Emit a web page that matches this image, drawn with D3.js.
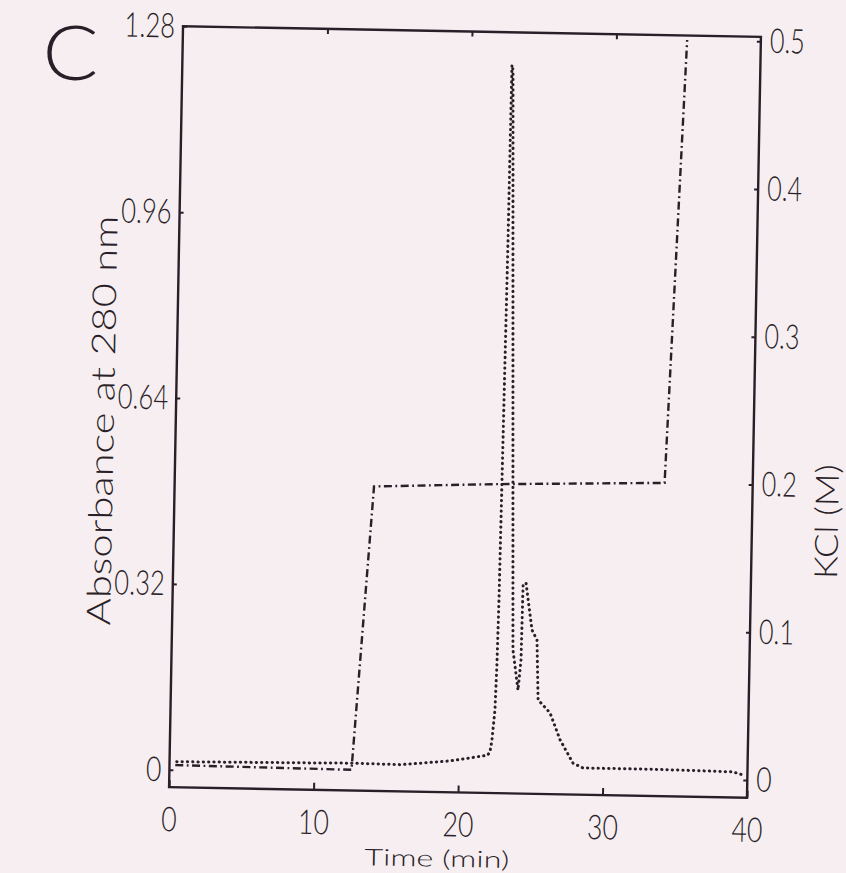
<!DOCTYPE html>
<html><head><meta charset="utf-8">
<script src="https://cdn.jsdelivr.net/npm/d3@7"></script>
<style>
html,body{margin:0;padding:0;background:#f6eef0;}
svg{display:block}
text{font-family:Lato,"Open Sans","DejaVu Sans",sans-serif;font-weight:300;fill:#2a1e28;}
</style>
</head><body>
<svg id="chart" width="846" height="873"></svg>
<script>
// ---- data ----
const timeTicks = [0, 10, 20, 30, 40];
const absTicks = [0, 0.32, 0.64, 0.96, 1.28];
const kclTicks = [0, 0.1, 0.2, 0.3, 0.4, 0.5];

// absorbance at 280 nm (dotted trace)
const absTime  = [0.5, 9.0, 12.6, 16.0, 19.4, 22.0, 22.16, 22.28, 22.45, 22.53, 22.59, 22.62, 22.76, 22.81,
                  22.89, 23.1, 23.48, 23.62, 24.02, 24.19, 24.24, 24.44, 24.91, 25.27, 25.42, 26.26, 26.99,
                  27.92, 28.62, 33.25, 36.7, 39.0, 39.7];
const absValue = [0.014, 0.016, 0.017, 0.016, 0.024, 0.035, 0.041, 0.061, 0.113, 0.191, 0.303, 0.406, 0.923, 1.224,
                  1.215, 0.923, 0.406, 0.217, 0.148, 0.200, 0.329, 0.333, 0.252, 0.235, 0.132, 0.110, 0.064,
                  0.024, 0.016, 0.016, 0.015, 0.014, 0.009];

// KCl gradient (dash-dot trace)
const kclTime  = [0.4, 12.6, 13.8, 22.0, 33.9, 34.9];
const kclValue = [0.003, 0.002, 0.194, 0.197, 0.200, 0.500];

const absSeries = absTime.map((t, i) => ({t, v: absValue[i]}));
const kclSeries = kclTime.map((t, i) => ({t, v: kclValue[i]}));

// ---- layout ----
const ink = "#2a1e28";
const L = 176, R = 754, T = 31.5, B = 792.5;
const svg = d3.select("#chart");
const g = svg.append("g").attr("transform", "rotate(1.05,465,412)");

const x = d3.scaleLinear().domain([0, 40]).range([L, R]);
const yL = d3.scaleLinear().domain([-0.03, 1.28]).range([B, T]);
const yR = d3.scaleLinear().domain([-0.012, 0.503]).range([B, T]);

const labelLen = s => s.replace(/[^0-9]/g, "").length * 15.5 + (s.includes(".") ? 4 : 0);
function styleAxis(sel) {
  sel.select(".domain").remove();
  sel.selectAll("line").attr("stroke", ink).attr("stroke-width", 2);
  sel.selectAll("text")
    .attr("font-size", 34)
    .attr("fill", ink)
    .attr("textLength", function(){ return labelLen(this.textContent); })
    .attr("lengthAdjust", "spacingAndGlyphs");
}
const fmt = d => d === 0 ? "0" : String(d);

// bottom axis
g.append("g").attr("transform", `translate(0,${B})`)
  .call(d3.axisBottom(x).tickValues(timeTicks).tickFormat(fmt).tickSize(-7).tickPadding(20))
  .call(styleAxis);
// top ticks
g.append("g").attr("transform", `translate(0,${T})`)
  .call(d3.axisTop(x).tickValues([10, 20, 30]).tickFormat("").tickSize(-5))
  .call(styleAxis);
// left axis
g.append("g").attr("transform", `translate(${L},0)`)
  .call(d3.axisLeft(yL).tickValues(absTicks).tickFormat(fmt).tickSize(-4).tickPadding(8))
  .call(styleAxis);
// right axis
g.append("g").attr("transform", `translate(${R},0)`)
  .call(d3.axisRight(yR).tickValues(kclTicks).tickFormat(fmt).tickSize(-4).tickPadding(9))
  .call(styleAxis);

// frame
g.append("rect").attr("x", L).attr("y", T).attr("width", R - L).attr("height", B - T)
  .attr("fill", "none").attr("stroke", ink).attr("stroke-width", 2.4);

// traces
g.append("path").datum(kclSeries)
  .attr("d", d3.line().x(d => x(d.t)).y(d => yR(d.v)))
  .attr("fill", "none").attr("stroke", ink).attr("stroke-width", 2.4)
  .attr("stroke-dasharray", "8 3.5 1.8 3.5");

g.append("path").datum(absSeries)
  .attr("d", d3.line().x(d => x(d.t)).y(d => yL(d.v)))
  .attr("fill", "none").attr("stroke", ink).attr("stroke-width", 3)
  .attr("stroke-linecap", "round").attr("stroke-dasharray", "0.3 5");

// titles
g.append("text").attr("x", 445).attr("y", 867).attr("text-anchor", "middle")
  .attr("font-size", 23).attr("textLength", 145).attr("lengthAdjust", "spacingAndGlyphs")
  .text("Time (min)");
g.append("text").attr("transform", "translate(114,427) rotate(-90)").attr("text-anchor", "middle")
  .attr("font-size", 33).attr("textLength", 410).attr("lengthAdjust", "spacingAndGlyphs")
  .text("Absorbance at 280 nm");
g.append("text").attr("transform", "translate(840,515) rotate(-90)").attr("text-anchor", "middle")
  .attr("font-size", 32).attr("textLength", 115).attr("lengthAdjust", "spacingAndGlyphs")
  .text("KCl (M)");
g.append("text").attr("x", 64).attr("y", 87).attr("text-anchor", "middle")
  .attr("font-size", 76).attr("textLength", 56).attr("lengthAdjust", "spacingAndGlyphs")
  .text("C");
</script>
</body></html>
